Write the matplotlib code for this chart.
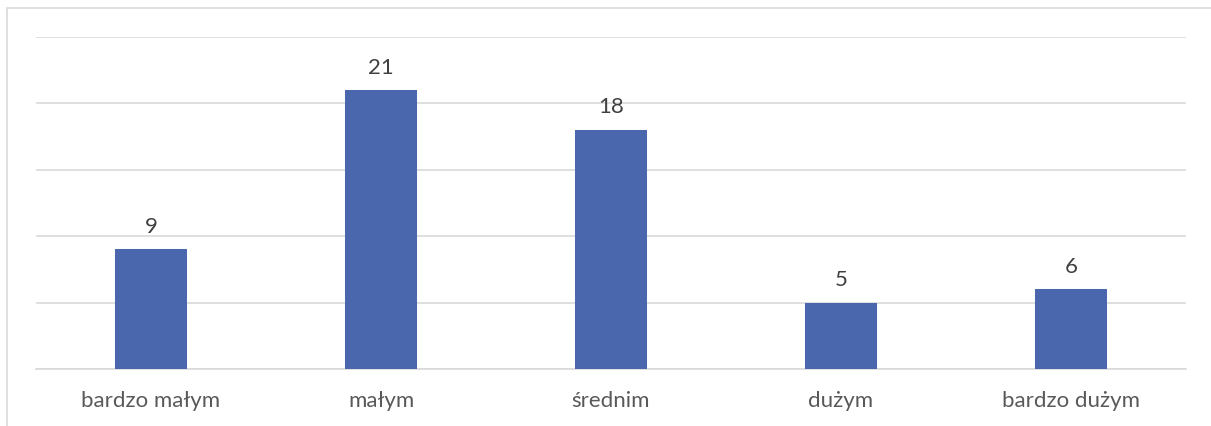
import matplotlib
matplotlib.use("Agg")
import matplotlib.pyplot as plt
from matplotlib.patches import Rectangle

categories = ["bardzo małym", "małym", "średnim", "dużym", "bardzo dużym"]
values = [9, 21, 18, 5, 6]
yticks = [0, 5, 10, 15, 20, 25]

W, H = 1211, 426
fig = plt.figure(figsize=(W / 100, H / 100), dpi=100)
plt.rcParams['font.family'] = ['Lato', 'DejaVu Sans']

# outer chart border
fig.patches.append(Rectangle((6.5 / W, -0.05), 1.2, 1 - 7.5 / H + 0.05,
                             transform=fig.transFigure, fill=False,
                             edgecolor="#d9d9d9", linewidth=1.2))

ax = fig.add_axes([36 / W, 1 - 369 / H, 1150 / W, 332 / H])
x = range(len(categories))
bars = ax.bar(x, values, width=0.313, color="#4a67ae", zorder=3)
ax.set_xlim(-0.5, len(categories) - 0.5)
ax.set_ylim(0, 25)
ax.set_yticks(yticks)
ax.yaxis.grid(True, color="#d9d9d9", linewidth=1.2, zorder=0)
ax.tick_params(axis="y", left=False, labelleft=False)
ax.tick_params(axis="x", length=0, pad=16, labelsize=16, labelcolor="#595959")
ax.set_xticks(list(x))
ax.set_xticklabels(categories)
for s in ["top", "right", "left"]:
    ax.spines[s].set_visible(False)
ax.spines["bottom"].set_color("#d9d9d9")
ax.spines["bottom"].set_linewidth(1.2)

for b, v in zip(bars, values):
    ax.annotate(str(v), (b.get_x() + b.get_width() / 2, v), xytext=(0, 9),
                textcoords="offset points", ha="center", va="bottom",
                fontsize=16, color="#404040")

fig.savefig("out.png", dpi=100)
